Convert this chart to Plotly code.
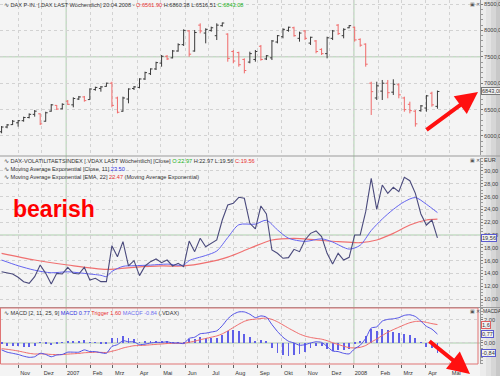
import pandas as pd
import plotly.graph_objects as go
from plotly.subplots import make_subplots

# ---------------- data ----------------
dates = pd.date_range(end="2008-04-16", periods=80, freq="7D")

dax_open = [6080,6170,6215,6250,6290,6350,6410,6420,6280,6470,
            6580,6515,6660,6590,6700,6740,6690,6880,6900,6940,
            7000,6720,6470,6700,6900,6920,7080,7180,7270,7380,
            7510,7480,7610,7730,7990,7610,8100,7950,8000,7900,
            8090,7930,7600,7580,7450,7400,7450,7700,7460,7480,
            7780,7880,8000,8050,7850,7990,7760,7800,7640,7560,
            7850,8100,7900,8050,8060,7830,7740,7000,6720,6850,
            7000,6830,6970,6720,6600,6470,6480,6530,6810,6561.90]
dax_high = [6189,6227,6303,6303,6366,6429,6492,6429,6460,6606,
            6587,6619,6682,6733,6758,6758,6903,6934,6947,7010,
            7028,6745,6745,6903,6947,7093,7218,7282,7407,7534,
            7534,7629,7755,8021,8008,8008,8134,8040,8071,8134,
            8150,7945,7629,7597,7471,7597,7629,7724,7534,7818,
            7913,8040,8071,8071,7976,8008,7881,7818,7661,7881,
            8008,8121,8040,8102,8071,7850,7755,7028,7028,7061,
            7061,7074,6998,6745,6650,6492,6587,6777,6839,6860.38]
dax_low = [6051,6146,6208,6177,6271,6334,6366,6208,6271,6460,
           6492,6505,6587,6543,6682,6650,6682,6858,6839,6934,
           6543,6429,6460,6619,6871,6903,7061,7155,7250,7313,
           7439,7471,7597,7705,7502,7597,7945,7755,7976,7818,
           8071,7407,7377,7313,7187,7377,7407,7426,7439,7439,
           7755,7850,7976,7881,7787,7818,7724,7566,7534,7471,
           7818,7913,7850,8040,7787,7691,7313,6398,6682,6682,
           6714,6777,6714,6460,6429,6177,6460,6460,6555,6516.51]
dax_close = [6170,6210,6280,6290,6350,6410,6470,6230,6440,6590,
             6510,6600,6600,6710,6740,6670,6890,6920,6930,7000,
             6580,6450,6720,6890,6930,7080,7200,7270,7390,7510,
             7460,7610,7730,8000,7550,7960,7990,8020,8050,8100,
             8140,7470,7420,7350,7240,7560,7600,7450,7520,7800,
             7900,8020,8060,7900,7950,7850,7870,7600,7560,7860,
             7990,7940,8020,8090,7820,7720,7360,6840,6950,7000,
             6820,6980,6780,6500,6480,6230,6570,6760,6590,6843.08]

vdax = [14.27,14.1,13.9,13.4,12.7,12.45,13.49,15.31,14.01,12.34,
        14.01,13.9,14.95,14.01,13.9,14.95,12.97,13.23,12.71,12.71,
        18.33,16.61,18.96,15.16,15.99,13.65,15.16,15.83,16.25,15.68,
        16.09,15.16,15.57,15.05,19.06,17.4,19.48,18.17,18.7,19.22,
        22.34,24.69,24.95,25.89,25.73,21.82,20.94,24.53,23.28,17.66,
        17.14,16.36,16.46,17.76,17.4,19.22,20.26,20.63,19.74,17.14,
        15.47,17.14,16.09,16.51,20.0,20.0,23.65,28.85,24.01,27.81,
        26.51,27.45,26.77,29.01,28.49,26.51,23.28,21.56,22.34,19.56]

ema11_bar = [1,4,7,10,13,16,19,20,21,23,25,28,31,34,35,38,40,42,44,47,49,51,53,56,59,61,64,66,68,70,72,74,76,78,80]
ema11_val = [16.09,15.2,14.5,14.1,14.25,14.0,13.7,13.5,14.3,15.1,15.2,15.3,15.45,15.3,16.0,16.8,17.5,19.6,21.6,21.7,22.3,20.8,19.5,19.0,19.4,18.9,17.8,18.4,20.7,22.5,24.0,25.2,25.85,24.8,23.5]
ema22_bar = [1,7,13,20,25,30,34,38,42,46,50,54,58,62,66,69,72,75,78,80]
ema22_val = [17.14,16.09,15.31,14.63,14.95,15.16,15.16,15.68,16.55,17.92,19.22,19.48,19.22,18.96,18.8,19.22,20.26,21.56,22.34,22.47]

macd = [-0.6,-0.8,-0.9,-1.0,-1.15,-1.25,-1.2,-0.9,-1.0,-1.2,
        -1.05,-1.0,-0.8,-0.8,-0.8,-0.6,-0.75,-0.75,-0.85,-0.9,
        -0.3,-0.15,0.2,0.1,0.1,-0.15,-0.1,0.0,0.05,0.05,
        0.1,0.0,0.0,-0.05,0.4,0.5,0.8,0.85,0.95,1.05,
        1.5,2.1,2.5,2.7,2.7,2.5,2.2,2.35,2.25,1.6,
        1.0,0.5,0.15,0.0,-0.2,-0.15,0.0,0.1,0.05,-0.3,
        -0.7,-0.75,-0.9,-0.95,-0.5,-0.2,0.4,1.3,1.4,1.9,
        2.05,2.1,2.2,2.4,2.45,2.3,1.9,1.45,1.2,0.77]
trigger = [-0.5,-0.55,-0.62,-0.7,-0.8,-0.9,-0.96,-0.95,-0.96,-1.0,
           -1.01,-1.01,-0.97,-0.94,-0.91,-0.85,-0.83,-0.81,-0.82,-0.83,
           -0.72,-0.6,-0.44,-0.33,-0.24,-0.22,-0.2,-0.16,-0.12,-0.09,
           -0.05,-0.04,-0.03,-0.03,0.06,0.15,0.28,0.39,0.5,0.61,
           0.79,1.05,1.34,1.63,1.88,2.02,2.07,2.13,2.16,2.05,
           1.84,1.57,1.29,1.03,0.78,0.6,0.48,0.4,0.33,0.2,
           0.02,-0.13,-0.28,-0.41,-0.43,-0.38,-0.22,0.08,0.34,0.65,
           0.93,1.16,1.37,1.58,1.76,1.87,1.88,1.79,1.68,1.6]
macdf = [-0.1,-0.25,-0.28,-0.3,-0.35,-0.35,-0.24,0.05,-0.04,-0.2,
         -0.04,0.01,0.17,0.14,0.11,0.25,0.08,0.06,-0.03,-0.07,
         0.42,0.45,0.64,0.43,0.34,0.07,0.1,0.16,0.17,0.14,
         0.15,0.04,0.03,-0.02,0.34,0.35,0.52,0.46,0.45,0.44,
         0.71,1.05,1.16,1.07,0.82,0.48,0.13,0.22,0.09,-0.45,
         -0.84,-1.07,-1.14,-1.03,-0.98,-0.75,-0.48,-0.3,-0.28,-0.5,
         -0.72,-0.62,-0.62,-0.54,-0.07,0.18,0.62,1.22,1.06,1.25,
         1.12,0.94,0.83,0.82,0.69,0.43,0.02,-0.34,-0.48,-0.84]

month_ticks = pd.date_range("2006-11-01", "2008-05-01", freq="MS")
month_labels = ["Nov","Dez","2007","Feb","Mrz","Apr","Mai","Jun","Jul","Aug",
                "Sep","Okt","Nov","Dez","2008","Feb","Mrz","Apr","Mai"]
year_lines = ["2007-01-01", "2008-01-01"]

price_ticks = [6000, 6500, 7000, 7500, 8000, 8500]
vdax_ticks = [10, 12, 14, 16, 18, 20, 22, 24, 26, 28, 30]
macd_ticks = [0, 2]

# ---------------- figure ----------------
W, H = 500, 376
ML, MR, MT, MB = 0, 20, 0, 12
PW, PH = W - ML - MR, H - MT - MB


def px(x):
    return x / PW


def py(y):
    return (PH - y) / PH


FONT = "Liberation Sans, Arial, sans-serif"
UP = "#3a3a3a"
DOWN = "#f06a6a"

fig = make_subplots(rows=3, cols=1, shared_xaxes=True, vertical_spacing=0.0)

fig.add_trace(go.Ohlc(x=dates, open=dax_open, high=dax_high, low=dax_low, close=dax_close,
                      increasing_line_color=UP, decreasing_line_color=DOWN,
                      line_width=1, tickwidth=0.36, showlegend=False, hoverinfo="skip"),
              row=1, col=1)

fig.add_trace(go.Scatter(x=[dates[i - 1] for i in ema22_bar], y=ema22_val, mode="lines",
                         line=dict(color="#f07070", width=1.2, shape="spline", smoothing=0.8),
                         showlegend=False, hoverinfo="skip"), row=2, col=1)
fig.add_trace(go.Scatter(x=[dates[i - 1] for i in ema11_bar], y=ema11_val, mode="lines",
                         line=dict(color="#6464f0", width=1, shape="spline", smoothing=0.8),
                         showlegend=False, hoverinfo="skip"), row=2, col=1)
fig.add_trace(go.Scatter(x=dates, y=vdax, mode="lines",
                         line=dict(color="#4a4a7c", width=1.1),
                         showlegend=False, hoverinfo="skip"), row=2, col=1)

fig.add_trace(go.Bar(x=dates, y=macdf, marker_color="#6060e8", marker_line_width=0,
                     width=86400000 * 1.1, showlegend=False, hoverinfo="skip"), row=3, col=1)
fig.add_trace(go.Scatter(x=dates, y=trigger, mode="lines",
                         line=dict(color="#f06a6a", width=1, shape="spline", smoothing=0.6),
                         showlegend=False, hoverinfo="skip"), row=3, col=1)
fig.add_trace(go.Scatter(x=dates, y=macd, mode="lines",
                         line=dict(color="#5050e6", width=1, shape="spline", smoothing=0.6),
                         showlegend=False, hoverinfo="skip"), row=3, col=1)

# domains (pixel based)
doms = [(0, 155), (158, 307), (308, 364)]
ranges = [[5640, 8576], [8.75, 32.03], [-1.83, 3.04]]
tickv = [price_ticks, vdax_ticks, macd_ticks]
minor_dt = [100, 0.5, 0.25]
for k in range(3):
    yk = "yaxis" if k == 0 else f"yaxis{k + 1}"
    xk = "xaxis" if k == 0 else f"xaxis{k + 1}"
    top, bot = doms[k]
    fig.layout[yk].update(
        domain=[py(bot), py(top)], range=ranges[k], side="right",
        tickvals=tickv[k], ticktext=[f"{v:.2f}".replace(".", ",") for v in tickv[k]],
        tickfont=dict(size=5.6, color="#444", family=FONT),
        ticks="outside", ticklen=2, tickcolor="#777",
        minor=dict(ticks="outside", ticklen=2, dtick=minor_dt[k], tick0=0, tickcolor="#999", showgrid=False),
        showgrid=True, gridcolor="#d2d2d2", griddash="dot", gridwidth=1,
        showline=True, linecolor="#999", linewidth=1, zeroline=False,
        fixedrange=True, automargin=False)
    fig.layout[xk].update(
        range=["2006-10-09", "2008-06-09"], type="date",
        tickvals=list(month_ticks), showgrid=True, gridcolor="#d2d2d2", griddash="dot",
        zeroline=False, showline=False, rangeslider=dict(visible=False), automargin=False,
        fixedrange=True)

fig.layout.xaxis3.update(ticktext=month_labels, ticks="outside", ticklen=3, tickcolor="#666",
                         tickfont=dict(size=5.6, color="#333", family=FONT), ticklabelshift=7,
                         showticklabels=True)

shapes = []
# right gutter shading
gut = [(480, 486, "#ececec"), (486, 491, "#e2e2e2"), (491, 496, "#d6d6d6"), (496, 500, "#c8c8c8")]
for x0, x1, c in gut:
    shapes.append(dict(type="rect", xref="paper", yref="paper", x0=px(x0), x1=px(x1), y0=py(376), y1=py(0),
                       fillcolor=c, line=dict(width=0), layer="below"))
# year lines
for d in year_lines:
    shapes.append(dict(type="line", xref="x3", yref="paper", x0=d, x1=d, y0=0, y1=1,
                       line=dict(color="#c5dcc5", width=1.5), layer="below"))
# mid lines
for yref, val in (("y", 7500), ("y2", 20), ("y3", 0)):
    shapes.append(dict(type="line", xref="paper", yref=yref, x0=0, x1=1, y0=val, y1=val,
                       line=dict(color="#c5dcc5", width=1.5), layer="below"))
# panel separators
for yy in (156, 307.5):
    shapes.append(dict(type="line", xref="paper", yref="paper", x0=0, x1=px(500), y0=py(yy), y1=py(yy),
                       line=dict(color="#9a9a9a", width=1)))
shapes.append(dict(type="rect", xref="paper", yref="paper", x0=px(0.5), x1=px(478), y0=py(364), y1=py(308),
                   line=dict(color="#e07474", width=1), fillcolor="rgba(0,0,0,0)"))

ann = []


def label(x, y, text, size=5.6, color="#333", anchor="left"):
    ann.append(dict(xref="paper", yref="paper", x=px(x), y=py(y), text=text, showarrow=False,
                    xanchor=anchor, yanchor="middle", font=dict(size=size, color=color, family=FONT)))


label(2, 5, "∿ DAX P-IN. [.DAX LAST Wöchentlich] 20.04.2008 - "
            "<span style='color:#e83030'>O:6561.90</span> H:6860.38 L:6516.51 "
            "<span style='color:#20b020'>C:6843.08</span>")
label(2, 161, "∿ DAX-VOLATILITAETSINDEX [.VDAX LAST Wöchentlich] [Close] "
              "<span style='color:#20b020'>O:22.97</span> H:22.97 L:19.56 "
              "<span style='color:#e83030'>C:19.56</span>")
label(2, 169, "∿ Moving Average Exponential [Close, 11] <span style='color:#3030e0'>23.50</span>")
label(2, 177, "∿ Moving Average Exponential [EMA, 22] <span style='color:#e83030'>22.47</span> "
              "(Moving Average Exponential)")
label(2, 313, "∿ MACD [2, 11, 25, 9] <span style='color:#3030e0'>MACD 0.77</span> "
              "<span style='color:#e83030'>Trigger 1.60</span> "
              "<span style='color:#7070f0'>MACDF -0.84</span> (.VDAX)")

for yy in (4, 160, 311):
    label(468, yy, "▣ ✕", size=5, color="#555")
label(482, 160, "EUR", size=5.6, color="#333")
label(481, 311, "MACDA", size=5, color="#333")


def badge(y, text, border):
    ann.append(dict(xref="paper", yref="paper", x=px(481), y=py(y), text=text, showarrow=False,
                    xanchor="left", yanchor="middle", bgcolor="#f2f2f2", bordercolor=border,
                    borderwidth=1, borderpad=0, font=dict(size=5.6, color="#333", family=FONT)))


badge(91, "6843,08", "#777")
badge(237.8, "19,56", "#5a5ad0")
badge(324.6, "1,6", "#e06060")
badge(334.2, "0,77", "#5a5ad0")
badge(352.7, "-0,84", "#5a5ad0")

# bearish text
ann.append(dict(xref="paper", yref="paper", x=px(11), y=py(209), text="<b>bearish</b>", showarrow=False,
                xanchor="left", yanchor="middle", font=dict(size=23, color="#ff0000", family=FONT)))
# arrows
ann.append(dict(xref="paper", yref="paper", x=px(478), y=py(92), ax=425 - 478, ay=131 - 92,
                axref="pixel", ayref="pixel", text="", showarrow=True, arrowhead=2, arrowsize=1.1,
                arrowwidth=4, arrowcolor="#ff1010"))
ann.append(dict(xref="paper", yref="paper", x=px(470), y=py(374), ax=428 - 470, ay=340 - 374,
                axref="pixel", ayref="pixel", text="", showarrow=True, arrowhead=2, arrowsize=1.1,
                arrowwidth=4, arrowcolor="#ff1010"))

fig.update_layout(width=W, height=H, margin=dict(l=ML, r=MR, t=MT, b=MB),
                  paper_bgcolor="#f4f4f4", plot_bgcolor="#f4f4f4",
                  shapes=shapes, annotations=ann, showlegend=False, bargap=0,
                  font=dict(family=FONT), hovermode=False, dragmode=False)

fig.write_html("out.html", config={"displayModeBar": False, "staticPlot": False},
               post_script="document.body.style.margin='0';document.body.style.overflow='hidden';")
